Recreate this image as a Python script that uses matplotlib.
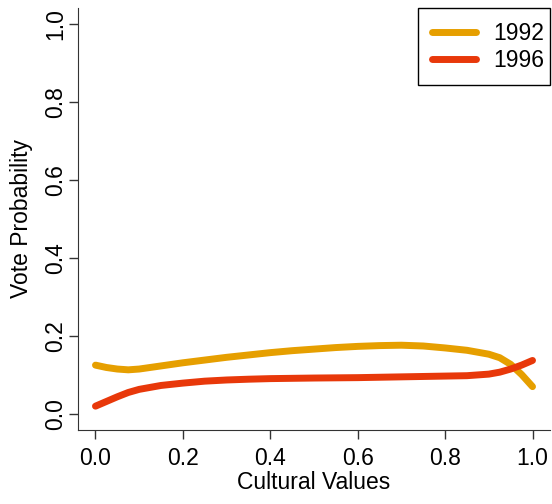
import matplotlib.pyplot as plt
from matplotlib.patches import Rectangle

plt.rcParams['font.family'] = ['Liberation Sans', 'DejaVu Sans']

# 1992 curve
x92 = [0.0, 0.025, 0.05, 0.075, 0.1, 0.15, 0.2, 0.25, 0.3, 0.35, 0.4, 0.45,
       0.5, 0.55, 0.6, 0.65, 0.7, 0.75, 0.8, 0.85, 0.9, 0.925, 0.95, 0.975, 1.0]
y92 = [0.126, 0.120, 0.116, 0.114, 0.116, 0.124, 0.132, 0.139, 0.146, 0.152,
       0.158, 0.163, 0.167, 0.171, 0.174, 0.176, 0.177, 0.175, 0.170, 0.164,
       0.154, 0.145, 0.128, 0.102, 0.071]

# 1996 curve
x96 = [0.0, 0.025, 0.05, 0.075, 0.1, 0.15, 0.2, 0.25, 0.3, 0.35, 0.4, 0.5,
       0.6, 0.7, 0.8, 0.85, 0.9, 0.925, 0.95, 0.975, 1.0]
y96 = [0.021, 0.033, 0.045, 0.056, 0.064, 0.074, 0.080, 0.085, 0.088, 0.090,
       0.0915, 0.093, 0.094, 0.096, 0.098, 0.099, 0.103, 0.108, 0.116, 0.126,
       0.138]

ticks = [0.0, 0.2, 0.4, 0.6, 0.8, 1.0]
tick_labels = ["0.0", "0.2", "0.4", "0.6", "0.8", "1.0"]

fig = plt.figure(figsize=(5.52, 5.04), dpi=100)
ax = fig.add_axes([78/552, 74/504, 472/552, 422/504])

ax.plot(x92, y92, color="#E69F00", linewidth=5, solid_capstyle="round", label="1992")
ax.plot(x96, y96, color="#E8380A", linewidth=5, solid_capstyle="round", label="1996")

ax.set_xlim(-0.04, 1.04)
ax.set_ylim(-0.04, 1.04)
ax.set_xticks(ticks, tick_labels, fontsize=16.5)
ax.set_yticks(ticks, tick_labels, fontsize=16.5, rotation=90, va="center")
ax.tick_params(length=6.5, width=1, color="#333333")
ax.tick_params(axis="x", pad=5.5)
ax.tick_params(axis="y", pad=1.5)

# bty = "l"
ax.spines["top"].set_visible(False)
ax.spines["right"].set_visible(False)
ax.spines["left"].set_color("#333333")
ax.spines["bottom"].set_color("#333333")

ax.set_xlabel("Cultural Values", fontsize=16.5, labelpad=1)
ax.set_ylabel("Vote Probability", fontsize=16.5, labelpad=8)

# legend box like R's legend("topright")
box = (0.72, 0.8175, 0.28, 0.1825)
ax.add_patch(Rectangle(box[:2], box[2], box[3], transform=ax.transAxes,
                       facecolor="white", edgecolor="black", linewidth=1,
                       clip_on=False, zorder=4))
leg = ax.legend(loc="center", bbox_to_anchor=(0.7285, 0.8155, 0.28, 0.1825),
                borderaxespad=0, frameon=False,
                fontsize=16.5, handlelength=1.92, handletextpad=0.74,
                labelspacing=0.18, borderpad=0)
leg.set_zorder(5)

fig.savefig("out.png", dpi=100)
